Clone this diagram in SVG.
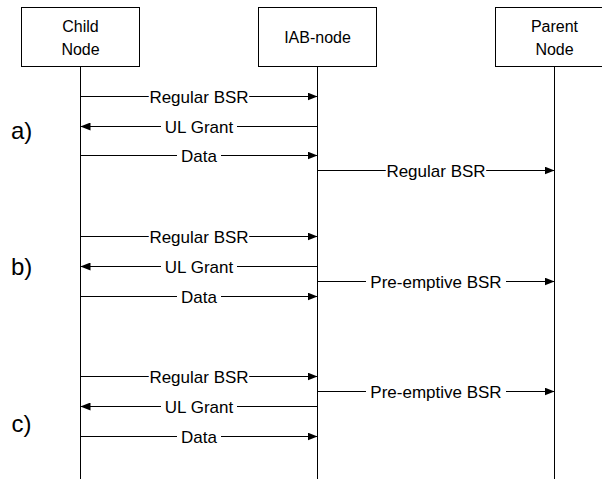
<svg xmlns="http://www.w3.org/2000/svg" width="602" height="479" viewBox="0 0 602 479">
<defs>
<marker id="ah" markerUnits="userSpaceOnUse" markerWidth="10" markerHeight="8" refX="10" refY="4" orient="auto">
<path d="M0,0 L10,4 L0,8 z" fill="#000"/>
</marker>
<style>
.box{fill:#fff;stroke:#000;stroke-width:1}
.life{stroke:#000;stroke-width:1;fill:none}
.msg{stroke:#000;stroke-width:1;fill:none;marker-end:url(#ah)}
.nt{font-family:"Liberation Sans",Arial,sans-serif;font-size:16px;fill:#000;text-anchor:middle}
.lt{font-family:"Liberation Sans",Arial,sans-serif;font-size:17px;fill:#000;text-anchor:middle;stroke:#fff;stroke-width:4;stroke-linejoin:round;paint-order:stroke}
.bg{fill:#fff}
.sec{font-family:"Liberation Sans",Arial,sans-serif;font-size:24px;fill:#000}
</style>
</defs>
<rect width="602" height="479" fill="#fff"/>
<g id="lifelines">
<line class="life" x1="80.5" y1="66.5" x2="80.5" y2="479"/>
<line class="life" x1="317.5" y1="66.5" x2="317.5" y2="479"/>
<line class="life" x1="554.5" y1="66.5" x2="554.5" y2="479"/>
</g>
<g id="child-node">
<rect class="box" x="21.5" y="7.5" width="118" height="59"/>
<text class="nt" x="80.5" y="31.5">Child</text>
<text class="nt" x="80.5" y="55">Node</text>
</g>
<g id="iab-node">
<rect class="box" x="258.5" y="7.5" width="118" height="59"/>
<text class="nt" x="317.5" y="43">IAB-node</text>
</g>
<g id="parent-node">
<rect class="box" x="495.5" y="7.5" width="118" height="59"/>
<text class="nt" x="554.5" y="31.5">Parent</text>
<text class="nt" x="554.5" y="55">Node</text>
</g>
<g id="connectors">
<!-- a) -->
<line class="msg" x1="80.5" y1="96.5" x2="317.5" y2="96.5"/>
<rect class="bg" x="149" y="89" width="100" height="15"/>
<text class="lt" x="199" y="102.5">Regular BSR</text>
<line class="msg" x1="317.5" y1="126.5" x2="80.5" y2="126.5"/>
<rect class="bg" x="161" y="119" width="76" height="15"/>
<text class="lt" x="199" y="132.5">UL Grant</text>
<line class="msg" x1="80.5" y1="155.5" x2="317.5" y2="155.5"/>
<rect class="bg" x="177" y="148" width="44" height="15"/>
<text class="lt" x="199" y="161.5">Data</text>
<line class="msg" x1="317.5" y1="170.5" x2="554.5" y2="170.5"/>
<rect class="bg" x="386" y="163" width="100" height="15"/>
<text class="lt" x="436" y="176.5">Regular BSR</text>
<!-- b) -->
<line class="msg" x1="80.5" y1="236.5" x2="317.5" y2="236.5"/>
<rect class="bg" x="149" y="229" width="100" height="15"/>
<text class="lt" x="199" y="242.5">Regular BSR</text>
<line class="msg" x1="317.5" y1="266.5" x2="80.5" y2="266.5"/>
<rect class="bg" x="161" y="259" width="76" height="15"/>
<text class="lt" x="199" y="272.5">UL Grant</text>
<line class="msg" x1="317.5" y1="281.5" x2="554.5" y2="281.5"/>
<rect class="bg" x="366" y="274" width="140" height="15"/>
<text class="lt" x="436" y="287.5">Pre-emptive BSR</text>
<line class="msg" x1="80.5" y1="296.5" x2="317.5" y2="296.5"/>
<rect class="bg" x="177" y="289" width="44" height="15"/>
<text class="lt" x="199" y="302.5">Data</text>
<!-- c) -->
<line class="msg" x1="80.5" y1="376.5" x2="317.5" y2="376.5"/>
<rect class="bg" x="149" y="369" width="100" height="15"/>
<text class="lt" x="199" y="382.5">Regular BSR</text>
<line class="msg" x1="317.5" y1="391.5" x2="554.5" y2="391.5"/>
<rect class="bg" x="366" y="384" width="140" height="15"/>
<text class="lt" x="436" y="397.5">Pre-emptive BSR</text>
<line class="msg" x1="317.5" y1="406.5" x2="80.5" y2="406.5"/>
<rect class="bg" x="161" y="399" width="76" height="15"/>
<text class="lt" x="199" y="412.5">UL Grant</text>
<line class="msg" x1="80.5" y1="436.5" x2="317.5" y2="436.5"/>
<rect class="bg" x="177" y="429" width="44" height="15"/>
<text class="lt" x="199" y="442.5">Data</text>
</g>
<g id="section-labels">
<text class="sec" x="11" y="139">a)</text>
<text class="sec" x="11" y="274.5">b)</text>
<text class="sec" x="11.5" y="431.5">c)</text>
</g>
</svg>
